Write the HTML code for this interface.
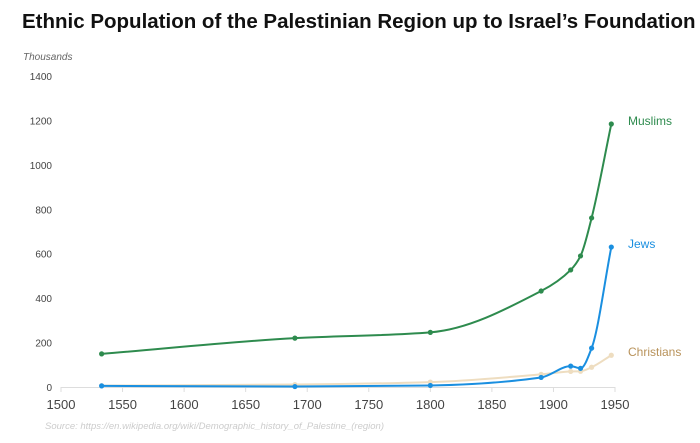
<!DOCTYPE html>
<html><head><meta charset="utf-8"><style>
body{margin:0;background:#fff;font-family:"Liberation Sans",sans-serif;}
svg text{font-family:"Liberation Sans",sans-serif;}
</style></head><body>
<svg width="700" height="438">
<text x="22" y="28" font-size="20.5" font-weight="bold" fill="#111">Ethnic Population of the Palestinian Region up to Israel’s Foundation</text>
<text x="23" y="60" font-size="10" font-style="italic" fill="#666">Thousands</text>
<g id="axes"></g>
<g id="series"></g>
<text x="45" y="429" font-size="9.5" font-style="italic" fill="#ccc">Source: https://en.wikipedia.org/wiki/Demographic_history_of_Palestine_(region)</text>
</svg>
<script>
const years=[1533,1690,1800,1890,1914,1922,1931,1947];
const muslims=[149,220,246,432,527,590,761,1184];
const jews=[5,2,7,43,94,84,175,630];
const christians=[6,11,22,57,70,71,89,143];
const xTicks=[1500,1550,1600,1650,1700,1750,1800,1850,1900,1950];
const yTicks=[0,200,400,600,800,1000,1200,1400];
const NS="http://www.w3.org/2000/svg";
const x=v=>61+(v-1500)*(615-61)/450;
const y=v=>387-v*(387-76)/1400;
function mk(t,a,p){const e=document.createElementNS(NS,t);for(const k in a)e.setAttribute(k,a[k]);p.appendChild(e);return e;}
const axes=document.getElementById('axes');
const bl=mk('line',{x1:61,x2:615,y1:387.5,y2:387.5,stroke:'#ddd'},axes);


xTicks.forEach(t=>{
 const tk=mk('line',{x1:x(t),x2:x(t),y1:387,y2:392,stroke:'#ddd'},axes);
 
 
 const l=mk('text',{x:x(t),y:409,'font-size':13,'text-anchor':'middle',fill:'#444'},axes);
 l.textContent=t;
 
 
});
yTicks.forEach(t=>{
 const l=mk('text',{x:52,y:y(t)+4,'font-size':10,'text-anchor':'end',fill:'#444'},axes);
 l.textContent=t;
 
 
});
function monotone(xs,ys){
 const n=xs.length,d=[],m=[];
 for(let i=0;i<n-1;i++)d.push((ys[i+1]-ys[i])/(xs[i+1]-xs[i]));
 m[0]=d[0];m[n-1]=d[n-2];
 for(let i=1;i<n-1;i++){
  if(d[i-1]*d[i]<=0)m[i]=0;
  else{const h0=xs[i]-xs[i-1],h1=xs[i+1]-xs[i];m[i]=3*(h0+h1)/((2*h1+h0)/d[i-1]+(h1+2*h0)/d[i]);}
 }
 let p=`M${xs[0]},${ys[0]}`;
 for(let i=0;i<n-1;i++){const h=(xs[i+1]-xs[i])/3;
  p+=`C${xs[i]+h},${ys[i]+m[i]*h} ${xs[i+1]-h},${ys[i+1]-m[i+1]*h} ${xs[i+1]},${ys[i+1]}`;}
 return p;
}
const sg=document.getElementById('series');
const defs=[['christians',christians,'#eeddc0','Christians','#b8925a'],['jews',jews,'#1a8fe0','Jews','#1a8fe0'],['muslims',muslims,'#2e8b4e','Muslims','#2e8b4e']];
defs.forEach(([name,vals,col,lab,lc])=>{
 const xs=years.map(x),ys=vals.map(y);
 const path=mk('path',{d:monotone(xs,ys),fill:'none',stroke:col,'stroke-width':2},sg);
 
 
 xs.forEach((px,i)=>{
  const c=mk('circle',{cx:px,cy:ys[i],r:2.6,fill:col},sg);
  
  
 });
 const t=mk('text',{x:628,y:ys[ys.length-1]+1,'font-size':12,fill:lc},sg);
 t.textContent=lab;
 
 
});
</script>
</body></html>
